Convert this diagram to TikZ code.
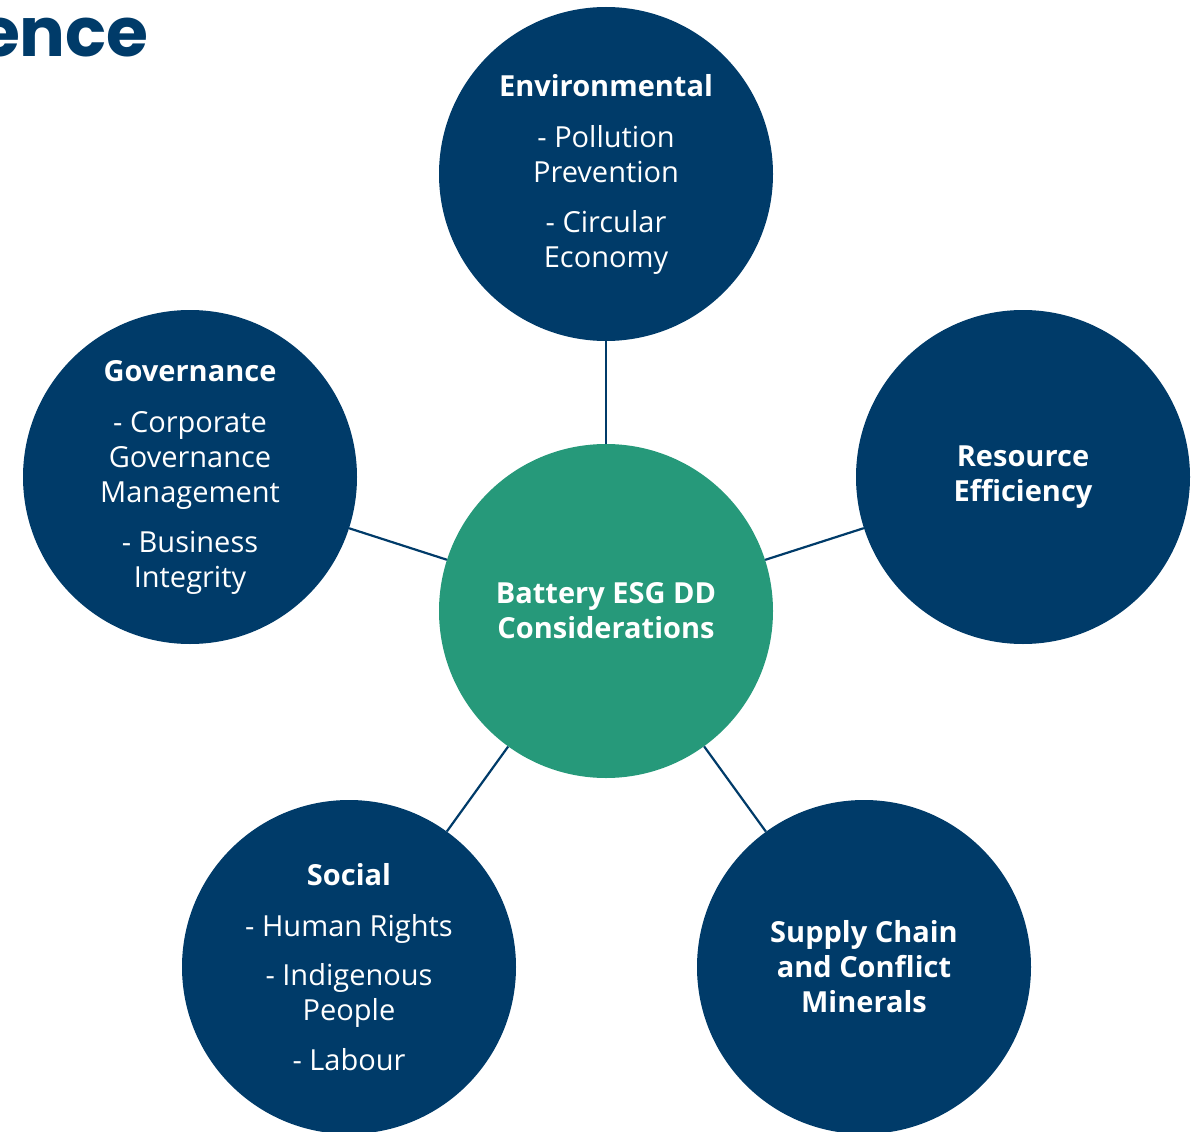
\documentclass[tikz,border=0pt]{standalone}
\usepackage{fontspec}
\setmainfont{Open Sans}
\newfontfamily\titlefont{Poppins}
\definecolor{navy}{RGB}{0,59,105}
\definecolor{esggreen}{RGB}{38,153,122}
\tikzset{
  bubble/.style={circle, fill=navy, text=white, minimum size=334pt, inner sep=0pt, align=center,
    font=\fontsize{29}{35}\selectfont},
  hub/.style={bubble, fill=esggreen},
  link/.style={draw=navy, line width=2.2pt}
}
\begin{document}
\begin{tikzpicture}[x=1pt,y=-1pt]
\useasboundingbox (0,0) rectangle (1200,1132);
\clip (0,0) rectangle (1200,1132);
\node[anchor=base east, text=navy, inner sep=0pt, font=\titlefont\bfseries\fontsize{68}{80}\selectfont] (title) at (149,57) {ence};
\node[hub] (c) at (606,611) {\textbf{Battery ESG DD}\\\textbf{Considerations}};
\node[bubble] (env) at (606,174) {\textbf{Environmental}\\[16pt]- Pollution\\Prevention\\[15pt]- Circular\\Economy};
\node[bubble] (gov) at (190,477) {\textbf{Governance}\\[16pt]- Corporate\\Governance\\Management\\[15pt]- Business\\Integrity};
\node[bubble] (res) at (1023,477) {\textbf{Resource}\\\textbf{Efficiency}};
\node[bubble] (soc) at (349,967) {\textbf{Social}\\[16pt]- Human Rights\\[14pt]- Indigenous\\People\\[15pt]- Labour};
\node[bubble] (sup) at (864,967) {\textbf{Supply Chain}\\\textbf{and Conflict}\\\textbf{Minerals}};
\draw[link] (c) -- (env);
\draw[link] (c) -- (gov);
\draw[link] (c) -- (res);
\draw[link] (c) -- (soc);
\draw[link] (c) -- (sup);
\end{tikzpicture}
\end{document}
